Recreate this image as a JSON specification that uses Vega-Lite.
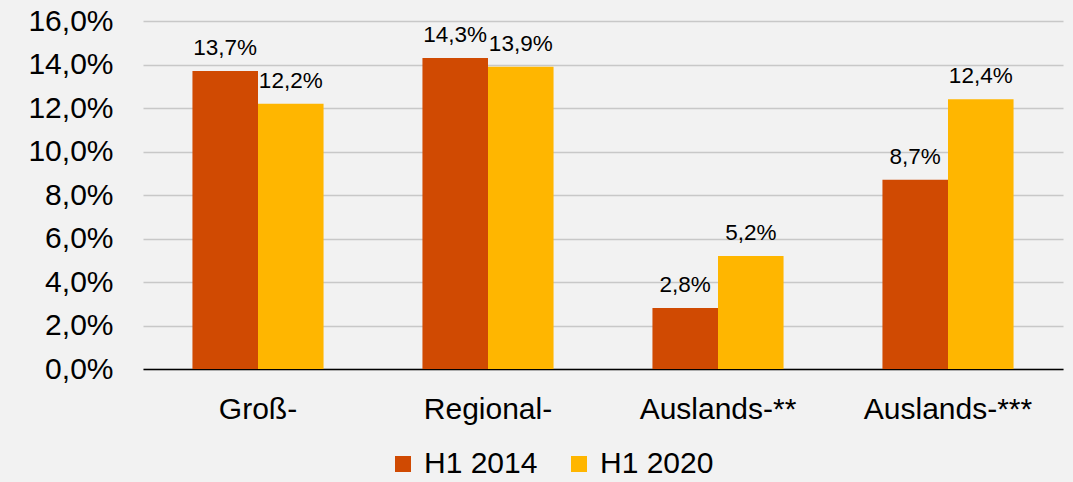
{
  "$schema": "https://vega.github.io/schema/vega-lite/v6.json",
  "width": 920,
  "height": 348,
  "autosize": {"type": "none"},
  "padding": {"left": 143, "top": 21, "right": 10, "bottom": 113},
  "background": "#f2f2f2",
  "config": {
    "view": {"stroke": null},
    "font": "Liberation Sans"
  },
  "data": {
    "values": [
      {"category": "Groß-", "series": "H1 2014", "value": 13.7},
      {"category": "Groß-", "series": "H1 2020", "value": 12.2},
      {"category": "Regional-", "series": "H1 2014", "value": 14.3},
      {"category": "Regional-", "series": "H1 2020", "value": 13.9},
      {"category": "Auslands-**", "series": "H1 2014", "value": 2.8},
      {"category": "Auslands-**", "series": "H1 2020", "value": 5.2},
      {"category": "Auslands-***", "series": "H1 2014", "value": 8.7},
      {"category": "Auslands-***", "series": "H1 2020", "value": 12.4}
    ]
  },
  "transform": [
    {"calculate": "replace(format(datum.value, '.1f'), '.', ',') + '%'", "as": "label"}
  ],
  "encoding": {
    "x": {
      "field": "category",
      "type": "nominal",
      "sort": null,
      "scale": {"paddingInner": 0.43, "paddingOuter": 0.215},
      "axis": {
        "title": null,
        "labelAngle": 0,
        "labelFontSize": 30,
        "labelColor": "#000000",
        "labelPadding": 25,
        "ticks": false,
        "domainColor": "#000000",
        "domainWidth": 1.5,
        "grid": false
      }
    },
    "xOffset": {"field": "series", "type": "nominal", "sort": null, "scale": {"paddingInner": 0, "paddingOuter": 0}},
    "y": {
      "field": "value",
      "type": "quantitative",
      "scale": {"domain": [0, 16], "nice": false},
      "axis": {
        "title": null,
        "values": [0, 2, 4, 6, 8, 10, 12, 14, 16],
        "labelExpr": "replace(format(datum.value, '.1f'), '.', ',') + '%'",
        "labelFontSize": 30,
        "labelColor": "#000000",
        "labelPadding": 30,
        "ticks": false,
        "domain": false,
        "gridColor": "#c8c8c8",
        "gridWidth": 1.5
      }
    }
  },
  "layer": [
    {
      "mark": {"type": "bar"},
      "encoding": {
        "color": {
          "field": "series",
          "type": "nominal",
          "scale": {"domain": ["H1 2014", "H1 2020"], "range": ["#D04A02", "#FFB600"]},
          "legend": {
            "title": null,
            "orient": "none",
            "direction": "horizontal",
            "legendX": 245,
            "legendY": 428,
            "symbolType": "square",
            "symbolSize": 256,
            "symbolStrokeWidth": 0,
            "labelFontSize": 30,
            "labelColor": "#000000",
            "labelOffset": 6,
            "columnPadding": 26,
            "symbolOpacity": 1
          }
        }
      }
    },
    {
      "mark": {"type": "text", "baseline": "alphabetic", "dy": -16, "fontSize": 22.5, "color": "#000000"},
      "encoding": {
        "text": {"field": "label"}
      }
    }
  ]
}
